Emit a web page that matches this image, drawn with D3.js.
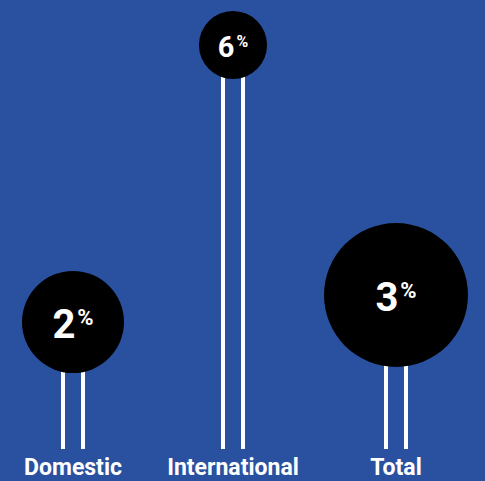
<!DOCTYPE html>
<html>
<head>
<meta charset="utf-8">
<script src="https://cdn.jsdelivr.net/npm/d3@7"></script>
<style>
  html, body { margin: 0; padding: 0; background: #2a519f; }
  svg { display: block; }
</style>
</head>
<body>
<svg id="chart" width="485" height="481"></svg>
<script>
// Categories and their growth rates (%)
const categories = ["Domestic", "International", "Total"];
const growth = [2, 6, 3];
// Volume drives the bubble area; level drives how high the bubble sits
const volume = [26.0, 11.6, 51.8];
const level = [127, 404, 154];

const W = 485, H = 481;
const svg = d3.select("#chart");
svg.append("rect").attr("width", W).attr("height", H).attr("fill", "#2a519f");

const baseY = 449;
const x = d3.scalePoint().domain(categories).range([73, 396]).padding(0);
// the middle column sits slightly right of the even split
const xPos = d => d === "International" ? 233 : x(d);
const y = d3.scaleLinear().domain([0, 449]).range([baseY, 0]);
const r = d3.scaleSqrt().domain([0, d3.max(volume)]).range([0, 72]);

const data = categories.map((c, i) => ({ c, g: growth[i], v: volume[i], l: level[i] }));

const g = svg.selectAll("g.item").data(data).join("g").attr("class", "item")
  .attr("transform", d => `translate(${xPos(d.c)},0)`);

// twin stems
[-10, 10].forEach(off => {
  g.append("line")
    .attr("x1", off).attr("x2", off)
    .attr("y1", d => y(d.l)).attr("y2", baseY)
    .attr("stroke", "#fff").attr("stroke-width", 4);
});

g.append("circle")
  .attr("cx", 0).attr("cy", d => y(d.l))
  .attr("r", d => r(d.v))
  .attr("fill", "#000");

// value label with superscript percent sign
g.each(function(d) {
  const fs = Math.min(40, r(d.v) * 0.85);
  const t = d3.select(this).append("text")
    .attr("y", y(d.l) + fs * 0.4)
    .attr("text-anchor", "middle")
    .attr("fill", "#fff")
    .attr("font-family", "Roboto, sans-serif")
    .attr("font-weight", "700");
  t.append("tspan").attr("font-size", fs).text(d.g);
  t.append("tspan").attr("font-size", fs * 0.55).attr("dy", -fs * 0.32).attr("dx", 2).text("%");
});

// category labels
g.append("text")
  .attr("y", 475)
  .attr("text-anchor", "middle")
  .attr("fill", "#fff")
  .attr("font-family", "Roboto, sans-serif")
  .attr("font-weight", "700")
  .attr("font-size", 23)
  .text(d => d.c);
</script>
</body>
</html>
